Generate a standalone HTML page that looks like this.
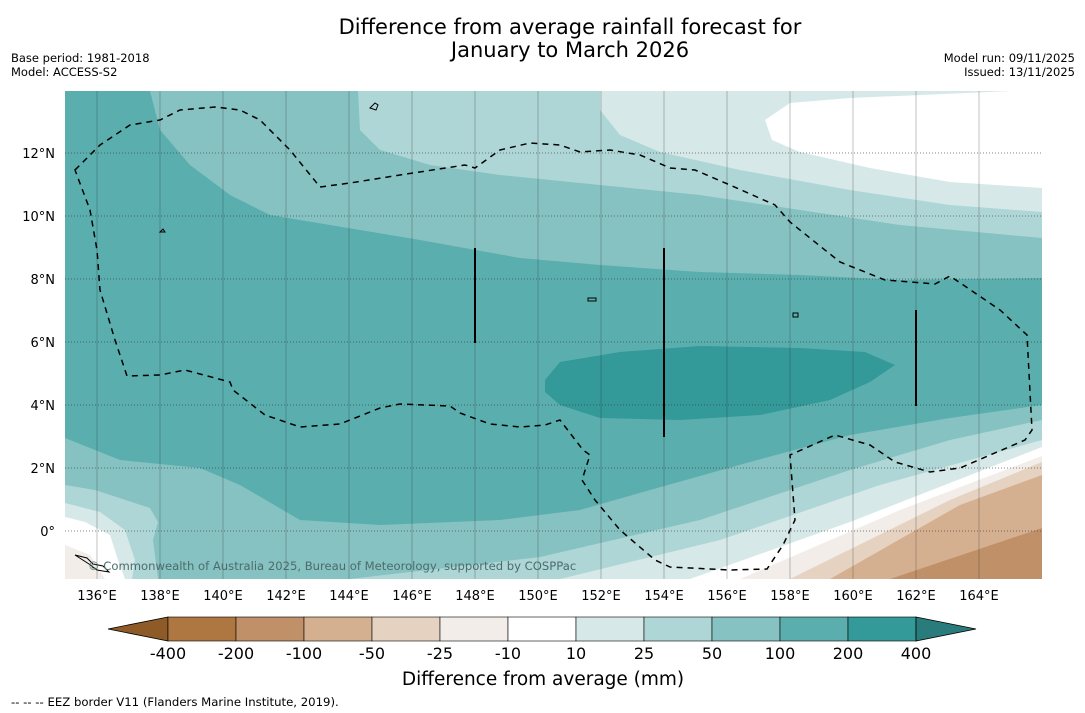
<!DOCTYPE html>
<html><head><meta charset="utf-8"><style>
body{margin:0;background:#fff;width:1085px;height:713px;overflow:hidden;font-family:"Liberation Sans","DejaVu Sans",sans-serif;}
svg{display:block}
</style></head><body>
<svg width="1085" height="713" xmlns="http://www.w3.org/2000/svg">
<g font-family="DejaVu Sans, Liberation Sans, sans-serif">
<text x="570" y="34" font-size="21" text-anchor="middle">Difference from average rainfall forecast for</text>
<text x="570" y="57" font-size="21" text-anchor="middle">January to March 2026</text>
<text x="11" y="62" font-size="11.5">Base period: 1981-2018</text>
<text x="11" y="76" font-size="11.5">Model: ACCESS-S2</text>
<text x="1075" y="62" font-size="11.5" text-anchor="end">Model run: 09/11/2025</text>
<text x="1075" y="76" font-size="11.5" text-anchor="end">Issued: 13/11/2025</text>
</g>
<defs><clipPath id="mc"><rect x="65" y="91" width="977" height="488"/></clipPath></defs>
<g clip-path="url(#mc)">
<rect x="65" y="91" width="977" height="488" fill="#5baeae"/>
<path fill="#86c2c1" d="M150,91 L160,130 L190,165 L230,195 L270,215 L330,225 L420,240 L520,258 L600,265 L700,272 L800,275 L900,280 L1042,278 L1042,91Z"/>
<path fill="#aed6d6" d="M358,91 L360,130 L380,150 L430,165 L500,175 L600,185 L700,195 L800,210 L900,225 L1042,238 L1042,91Z"/>
<path fill="#d6e9e8" d="M600,91 L600,110 L620,135 L660,152 L740,170 L850,190 L950,205 L1042,212 L1042,91Z"/>
<path fill="#ffffff" d="M765,120 L790,103 L850,98 L1012,91 L1042,91 L1042,188 L950,182 L870,168 L800,152 L772,140Z"/>
<path fill="#339999" d="M545,380 L560,362 L620,352 L700,346 L800,348 L865,352 L895,365 L870,382 L830,400 L760,415 L680,420 L600,418 L560,405 L545,392Z"/>
<path fill="#86c2c1" d="M65,438 L120,460 L200,468 L240,485 L300,520 L380,525 L500,520 L580,510 L650,490 L750,462 L850,435 L950,418 L1042,405 L1042,579 L65,579Z"/>
<path fill="#aed6d6" d="M65,485 L95,490 L150,508 L158,522 L153,540 L158,579 L65,579Z"/>
<path fill="#aed6d6" d="M350,579 L540,557 L700,520 L850,470 L950,440 L1042,420 L1042,579Z"/>
<path fill="#d6e9e8" d="M65,503 L100,512 L125,530 L135,560 L132,579 L65,579Z"/>
<path fill="#d6e9e8" d="M560,579 L720,540 L880,485 L1042,440 L1042,579Z"/>
<path fill="#ffffff" d="M65,517 L85,522 L110,535 L118,560 L125,579 L65,579Z"/>
<path fill="#ffffff" d="M690,579 L850,522 L1042,447 L1042,579Z"/>
<path fill="#f2ede8" d="M65,545 L90,555 L105,579 L65,579Z"/>
<path fill="#f2ede8" d="M740,579 L900,510 L1042,456 L1042,579Z"/>
<path fill="#e6d2c0" d="M790,579 L950,500 L1042,462 L1042,579Z"/>
<path fill="#d4b090" d="M830,579 L960,505 L1042,475 L1042,579Z"/>
<path fill="#c09068" d="M890,579 L1042,528 L1042,579Z"/>
<g id="grid"></g>
<path fill="none" stroke="#000" stroke-width="1.5" stroke-dasharray="6,5" d="M75,170 L100,145 L130,125 L160,120 L180,110 L215,107 L240,110 L260,120 L290,150 L320,187 L350,183 L400,175 L465,165 L475,168 L500,150 L530,143 L560,145 L580,152 L610,150 L640,155 L670,168 L695,170 L730,185 L775,205 L790,222 L840,262 L885,280 L935,284 L950,276 L1000,310 L1027,335 L1032,430 L1025,440 L960,468 L930,472 L895,462 L870,445 L835,435 L790,455 L795,520 L783,545 L767,569 L730,570 L670,567 L655,560 L620,530 L595,500 L582,480 L590,455 L583,450 L560,420 L545,425 L520,427 L490,424 L460,413 L450,406 L400,404 L380,408 L340,424 L300,427 L265,415 L233,390 L230,382 L185,370 L160,375 L127,376 L115,340 L100,290 L97,250 L90,210 Z"/>
<line x1="475" y1="248" x2="475" y2="343" stroke="#000" stroke-width="2"/>
<line x1="664" y1="248" x2="664" y2="437" stroke="#000" stroke-width="2"/>
<line x1="916" y1="310" x2="916" y2="406" stroke="#000" stroke-width="2"/>
<path d="M370,108 l5,-5 l3,2 l-2,5z M588,298 l8,0 l0,3 l-8,0z M793,313 l5,0 l0,4 l-5,0z M160,232 l3,-3 l2,3z" fill="none" stroke="#000" stroke-width="1"/>
<path d="M75,555 l12,3 l6,6 l10,2 l6,6 l-12,-2 l-8,-6z" fill="none" stroke="#000" stroke-width="1"/>
<text x="88" y="570" font-size="11.6" fill="#4d6b6b" font-family="DejaVu Sans, sans-serif">© Commonwealth of Australia 2025, Bureau of Meteorology, supported by COSPPac</text>
</g>
<g id="axes" font-family="DejaVu Sans, Liberation Sans, sans-serif" font-size="13"></g>
<g id="cbar"></g>
<text x="543" y="685" font-size="18.5" text-anchor="middle" font-family="DejaVu Sans, sans-serif">Difference from average (mm)</text>
<text x="11" y="706" font-size="11.7" font-family="DejaVu Sans, sans-serif">--  --  -- EEZ border V11 (Flanders Marine Institute, 2019).</text>
</svg>
<script>
const lonTicks=[136,138,140,142,144,146,148,150,152,154,156,158,160,162,164];
const latTicks=[0,2,4,6,8,10,12];
const levelLabels=["-400","-200","-100","-50","-25","-10","10","25","50","100","200","400"];
const levelColors=["#ae7640","#c09068","#d4b090","#e6d2c0","#f2ede8","#ffffff","#d6e9e8","#aed6d6","#86c2c1","#5baeae","#339999"];
const ns="http://www.w3.org/2000/svg";
const xLon=l=>65.5+(l-135)*31.5;
const yLat=l=>531-l*31.5;
const grid=document.getElementById('grid'),axes=document.getElementById('axes'),cb=document.getElementById('cbar');
function mk(t,a,p){const e=document.createElementNS(ns,t);for(const k in a)e.setAttribute(k,a[k]);p.appendChild(e);return e;}
lonTicks.forEach(l=>{
 const ln=mk('line',{x1:xLon(l),x2:xLon(l),y1:91,y2:579,stroke:'#333','stroke-opacity':0.3,'stroke-width':1},grid);
 
 
 const t=mk('text',{x:xLon(l),y:600,'text-anchor':'middle'},axes);t.textContent=l+'°E';
 
 
});
latTicks.forEach(l=>{
 const ln=mk('line',{x1:65,x2:1042,y1:yLat(l),y2:yLat(l),stroke:'#333','stroke-opacity':0.6,'stroke-width':1,'stroke-dasharray':'1,2'},grid);
 
 
 const t=mk('text',{x:55,y:yLat(l)+5,'text-anchor':'end'},axes);t.textContent=l===0?'0°':l+'°N';
 
 
});
const cx0=168,cw=68,cy=617,ch=24;
const lt=mk('path',{d:`M${cx0},${cy} L108,${cy+ch/2} L${cx0},${cy+ch}Z`,fill:'#8e5a28',stroke:'#000','stroke-width':0.8},cb);


levelColors.forEach((c,i)=>{
 const r=mk('rect',{x:cx0+i*cw,y:cy,width:cw,height:ch,fill:c,stroke:'#000','stroke-width':0.6},cb);
 
 
});
const xe=cx0+levelColors.length*cw;
const rt=mk('path',{d:`M${xe},${cy} L${xe+60},${cy+ch/2} L${xe},${cy+ch}Z`,fill:'#2a7b7b',stroke:'#000','stroke-width':0.8},cb);


levelLabels.forEach((s,i)=>{
 const t=mk('text',{x:cx0+i*cw,y:659,'text-anchor':'middle','font-size':16,'font-family':'DejaVu Sans, sans-serif'},cb);t.textContent=s;
 
 
});
</script>
</body></html>
